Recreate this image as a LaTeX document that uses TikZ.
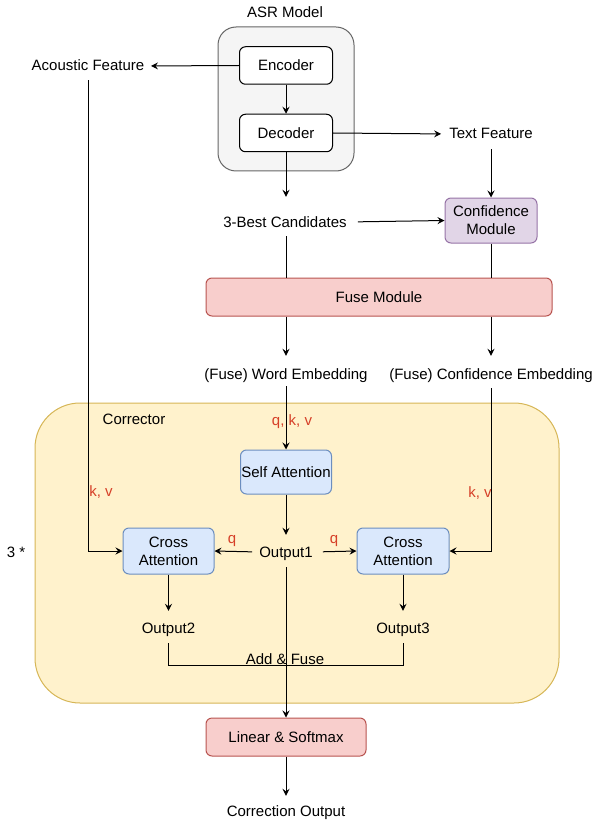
\documentclass[tikz,border=0pt]{standalone}
\usepackage{fontspec}
\setmainfont{Liberation Sans}
\usetikzlibrary{arrows.meta}
\definecolor{redtxt}{RGB}{214,64,40}
\definecolor{asrfill}{HTML}{F5F5F5}
\definecolor{asrdraw}{HTML}{666666}
\definecolor{purfill}{HTML}{E1D5E7}
\definecolor{purdraw}{HTML}{9673A6}
\definecolor{redfill}{HTML}{F8CECC}
\definecolor{reddraw}{HTML}{B85450}
\definecolor{bluefill}{HTML}{DAE8FC}
\definecolor{bluedraw}{HTML}{6C8EBF}
\definecolor{yelfill}{HTML}{FFF2CC}
\definecolor{yeldraw}{HTML}{D6B656}
\begin{document}
\begin{tikzpicture}[x=1pt,y=-1pt,
  font=\fontsize{15}{18}\selectfont,
  container/.style={draw, line width=1pt, inner sep=0pt},
  box/.style={draw, line width=1pt, rounded corners=6pt, align=center, inner sep=0pt},
  whitebox/.style={box, fill=white, draw=black, minimum width=93pt, minimum height=37.5pt},
  purbox/.style={box, fill=purfill, draw=purdraw},
  redbox/.style={box, fill=redfill, draw=reddraw},
  bluebox/.style={box, fill=bluefill, draw=bluedraw},
  txt/.style={inner sep=0pt, text height=12pt, text depth=2pt},
  redlbl/.style={inner sep=0pt, text=redtxt, text height=12pt, text depth=2pt},
  arr/.style={line width=1pt, -{Stealth[length=7pt,width=7pt,inset=2.5pt]}},
  ln/.style={line width=1pt}
]
\useasboundingbox (0,0) rectangle (594,821);

% containers
\node[container, fill=asrfill, draw=asrdraw, rounded corners=18pt,
      minimum width=136pt, minimum height=144pt] (asr) at (286,99) {};
\node[container, fill=yelfill, draw=yeldraw, rounded corners=45pt,
      minimum width=524pt, minimum height=300pt] (corr) at (297,553) {};

% labels of containers
\node[txt] (asrlbl) at (285,13) {ASR Model};
\node[txt] (corrlbl) at (134,419) {Corrector};
\node[txt] (three) at (16,552) {3 *};

% boxes
\node[whitebox] (enc) at (286,65.5) {Encoder};
\node[whitebox] (dec) at (286,133) {Decoder};
\node[purbox, minimum width=92pt, minimum height=45pt] (conf) at (491,220.5) {Confidence\\Module};
\node[redbox, minimum width=346pt, minimum height=38pt] (fuse) at (379,297) {Fuse Module};
\node[bluebox, minimum width=91pt, minimum height=44pt] (sa) at (286,472) {Self Attention};
\node[bluebox, minimum width=91pt, minimum height=46pt] (cal) at (168.5,551) {Cross\\Attention};
\node[bluebox, minimum width=92pt, minimum height=46pt] (car) at (403,551) {Cross\\Attention};
\node[redbox, minimum width=160pt, minimum height=38pt] (lin) at (286,737) {Linear \& Softmax};

% text nodes
\node[txt] (ac) at (88,66) {Acoustic Feature};
\node[txt] (tf) at (491,134) {Text Feature};
\node[txt] (best) at (285,222) {3-Best Candidates};
\node[txt] (we) at (286,374) {(Fuse) Word Embedding};
\node[txt] (ce) at (491,374) {(Fuse) Confidence Embedding};
\node[txt] (o1) at (286,552) {Output1};
\node[txt] (o2) at (168.5,628) {Output2};
\node[txt] (o3) at (403,628) {Output3};
\node[txt] (addf) at (285,659) {Add \& Fuse};
\node[txt] (co) at (286,811) {Correction Output};

% red labels
\node[redlbl] (qkv) at (292,420) {q, k, v};
\node[redlbl] (kvl) at (101,491) {k, v};
\node[redlbl] (kvr) at (480,492) {k, v};
\node[redlbl] (ql) at (232,538) {q};
\node[redlbl] (qr) at (334,538) {q};

% connectors
\draw[arr, shorten >=6.5pt] (enc.west) -- (ac.east);
\draw[arr] (enc.south) -- (dec.north);
\draw[arr, shorten >=8pt] (dec.east) -- (tf.west);
\draw[arr, shorten >=18pt] (dec.south) -- (dec.south |- best.north);
\draw[arr, shorten <=8pt] (tf.south) -- (conf.north);
\draw[arr, shorten <=11pt] (best.east) -- (conf.west);
\draw[ln, shorten <=7pt] (best.south -| dec.south) -- (dec.south |- fuse.north);
\draw[ln] (conf.south) -- (conf.south |- fuse.north);
\draw[arr, shorten >=11pt] (we.north |- fuse.south) -- (we.north);
\draw[arr, shorten >=11pt] (ce.north |- fuse.south) -- (ce.north);
\draw[arr, shorten <=5pt] (we.south) -- (sa.north);
\draw[arr, shorten <=7pt] (ac.south) |- (cal.west);
\draw[arr, shorten <=7pt] (ce.south) |- (car.east);
\draw[arr, shorten >=10pt] (sa.south) -- (o1.north);
\draw[arr, shorten <=7pt] (o1.west) -- (cal.east);
\draw[arr, shorten <=10pt] (o1.east) -- (car.west);
\draw[arr, shorten >=10pt] (cal.south) -- (o2.north);
\draw[arr, shorten >=10pt] (car.south) -- (o3.north);
\draw[ln, shorten <=8pt, shorten >=8pt] (o2.south) -- ++(0,30) -| (o3.south);
\draw[arr, shorten <=8pt] (o1.south) -- (lin.north);
\draw[arr, shorten >=8pt] (lin.south) -- (co.north);
\end{tikzpicture}
\end{document}
